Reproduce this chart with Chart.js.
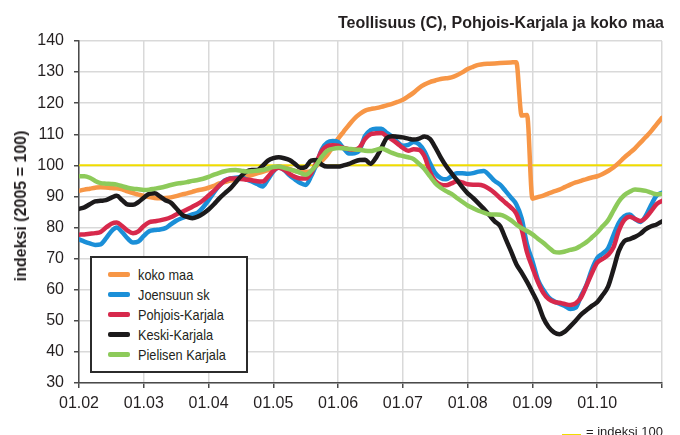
<!DOCTYPE html>
<html lang="fi">
<head>
    <meta charset="UTF-8">
    <title>Teollisuus (C), Pohjois-Karjala ja koko maa</title>
    <script src="https://cdn.jsdelivr.net/npm/chart.js"></script>
    <style>
        body {
            margin: 0;
            background: #fff;
        }
        #wrap {
            position: relative;
            width: 680px;
            height: 435px;
            overflow: hidden;
            font-family: "Liberation Sans", Arial, sans-serif;
            color: #231f20;
        }
        #chart {
            position: absolute;
            left: 0;
            top: 0;
        }
        #title {
            position: absolute;
            right: 16px;
            top: 15px;
            font-size: 16px;
            line-height: 16px;
            font-weight: bold;
            white-space: nowrap;
        }
        #ytitle {
            position: absolute;
            left: 21px;
            top: 206px;
            font-size: 16px;
            line-height: 16px;
            font-weight: bold;
            white-space: nowrap;
            transform: translate(-50%, -50%) rotate(-90deg);
        }
        #legend {
            position: absolute;
            left: 90px;
            top: 256px;
            width: 154px;
            height: 113px;
            border: 2px solid #2b2b2b;
            background: #fff;
        }
        #legend .item {
            position: absolute;
            left: 16px;
            height: 18px;
            display: flex;
            align-items: center;
            font-size: 15px;
            white-space: nowrap;
        }
        #legend .swatch {
            display: inline-block;
            width: 22px;
            height: 5px;
            border-radius: 2px;
            margin-right: 8px;
        }
        #legend .name {
            display: inline-block;
            transform: scaleX(0.85);
            transform-origin: left center;
        }
        #note {
            position: absolute;
            left: 562px;
            top: 425px;
            font-size: 13px;
            line-height: 13px;
            white-space: nowrap;
            display: flex;
            align-items: center;
        }
        #note .swatch {
            display: inline-block;
            width: 19px;
            height: 2px;
            margin-right: 5px;
            margin-top: 7px;
        }
    </style>
</head>
<body>
<div id="wrap">
    <canvas id="chart" width="680" height="435"></canvas>
    <div id="title">Teollisuus (C), Pohjois-Karjala ja koko maa</div>
    <div id="ytitle">indeksi (2005 = 100)</div>
    <div id="legend"></div>
    <div id="note"><span class="swatch"></span>= indeksi 100</div>
</div>
<script>
    // monthly values, 01.02 ... 01.11 (one row per year)
    const kokoMaa = [
        91.8, 92.2, 92.5, 92.8, 93, 92.9, 92.7, 92.6, 92.3, 91.6, 91.1, 90.6,
        90.2, 89.8, 89.5, 89.4, 89.5, 89.7, 90.1, 90.6, 91, 91.5, 92, 92.3,
        92.8, 93.4, 94.2, 94.6, 95.1, 95.5, 95.9, 96.4, 96.9, 97.4, 97.9, 98.5,
        99.1, 99.6, 99.3, 98.8, 98.2, 97.9, 97.9, 98.2, 99.8, 101.5, 103.4, 106,
        108.6, 110.8, 113, 115, 116.5, 117.6, 118.1, 118.4, 118.8, 119.3, 119.8, 120.4,
        121.1, 122.2, 123.4, 124.9, 126, 126.8, 127.3, 127.8, 128, 128.3, 129, 129.9,
        131, 131.7, 132.3, 132.6, 132.7, 132.8, 132.9, 133, 133.1, 133.2, 116, 116.2,
        89.3, 89.8, 90.3, 91, 91.6, 92.2, 93, 93.8, 94.5, 95, 95.6, 96.1,
        96.5, 97.2, 98.2, 99.3, 100.8, 102.5, 104, 105.5, 107.3, 109.1, 111, 113.2,
        115.3
    ];
    const joensuunSk = [
        76.2, 75.5, 74.9, 74.4, 74.6, 76.5, 78.8, 80, 78.5, 76.5, 75.2, 75.5,
        77.3, 78.8, 79.2, 79.4, 79.8, 81, 82.2, 83, 83.6, 84.2, 84.8, 86.5,
        88.8, 91.3, 93.5, 95.2, 95.8, 96, 96.2, 95.5, 94.8, 94, 93.2, 95.5,
        98, 99.4, 98.5, 96.8, 95.5, 94.3, 93.7, 96.5, 100.5, 105.2, 107.3, 107.8,
        107.5, 105.5, 103.8, 103.9, 105, 109.5, 111.3, 111.8, 111.8, 110.5, 109.3, 107.5,
        106.3, 106.6, 107.5, 106.8, 104.5, 100.8, 97.5, 95.9, 95.5, 96.5, 97.5, 97.5,
        97.3, 97.5, 98, 98.2, 96.8, 95, 93.8, 91.8, 89.7, 87.5, 83, 74.5,
        69.2, 63.3, 60, 57.6, 56.3, 55.5, 54.8, 53.8, 54.2, 58, 61.5, 66.5,
        70.2, 71.6, 73.3, 77.5, 81.5, 83.6, 84.2, 82.7, 81.8, 83.8, 87.3, 90.3,
        91.2
    ];
    const pohjoisKarjala = [
        77.7, 77.8, 78, 78.2, 78.6, 80, 81.2, 81.6, 80.5, 79, 78.2, 78.8,
        80.5, 81.7, 82, 82.3, 82.7, 83.3, 84.2, 85, 85.8, 86.7, 87.6, 88.8,
        90.3, 91.8, 93.5, 95, 95.8, 95.8, 95.6, 95.4, 95.2, 94.9, 94.8, 96.3,
        98.3, 99.2, 98.6, 97.3, 96.3, 95.8, 95.8, 97.5, 101, 104.8, 106.2, 106.5,
        106.3, 105.6, 105.2, 105, 105.8, 108.5, 110, 110.3, 110.4, 109.4, 108.3, 107,
        105.6, 104.7, 105.2, 105, 102.9, 98, 95, 93.8, 93.6, 94.2, 94.9, 94.5,
        93.9, 93.8, 93.8, 93.4, 92.4, 91.1, 89.5, 88, 86.5, 84.5, 79.5, 72,
        67.1, 62.5, 59, 57, 56.1, 55.8, 55.4, 55.1, 55.6, 57.5, 61.3, 65.3,
        68.7, 69.9, 71.2, 73.6, 79, 82.4, 83.5, 82.8, 82.1, 83.2, 85.3, 87.5,
        88.6
    ];
    const keskiKarjala = [
        86, 86.5, 87.5, 88.4, 88.6, 88.8, 89.6, 90.2, 88.8, 87.4, 87.3, 88.2,
        89.6, 90.8, 91, 90, 88.8, 88, 86.2, 84.3, 83.4, 83, 83.5, 84.5,
        85.8, 87.5, 89.4, 91, 92.5, 94.5, 96.5, 98, 98.5, 98.5, 99.8, 101.5,
        102.3, 102.6, 102.3, 101.7, 100.5, 99.2, 99.5, 101.5, 101.7, 100.2, 99.6, 99.6,
        99.6, 100, 100.5, 101.2, 101.7, 101.8, 100.5, 102.4, 105.5, 108.8, 109.4, 109.2,
        109, 108.6, 108.3, 108.6, 109.3, 108.5, 105.8, 102.6, 99.8, 97.5, 95.3, 93,
        91, 89.5, 87.8, 86, 84, 82, 80.5, 76.5, 72.5, 68.3, 65.5, 62.5,
        59.2, 55.7, 51, 48, 46.3, 45.7, 46.5, 48.2, 50, 52, 53.4, 54.8,
        56, 58.3, 61, 66.5, 72.5, 75.6, 76.3, 77, 78, 79.5, 80.4, 81,
        82
    ];
    const pielisenKarjala = [
        96.5, 96.5, 96, 95, 94.3, 94.1, 94, 93.8, 93.3, 92.8, 92.5, 92.3,
        92.1, 92.2, 92.5, 92.8, 93.2, 93.7, 94.1, 94.3, 94.6, 95, 95.3, 95.7,
        96.3, 97, 97.6, 98.1, 98.4, 98.5, 98.3, 98, 98.1, 98.3, 98.5, 99,
        99.5, 99.6, 99.2, 98.7, 98.2, 97.6, 97, 98.2, 100.2, 102.8, 104.7, 105.3,
        105.6, 105.5, 105.3, 105.1, 105, 104.7, 104.6, 105, 105.4, 104.8, 104, 103.4,
        103, 102.6, 102, 100.5, 98.8, 96.5, 94.3, 92.8, 91.7, 90.8, 89.5, 88.3,
        87.1, 86.2, 85.4, 84.8, 84.3, 84.2, 84.1, 83.5, 82.4, 81, 79.8, 78.9,
        77.8, 76.4, 75.1, 73.6, 72.2, 72, 72.3, 72.8, 73.2, 74.2, 75.3, 76.8,
        78.4, 80.4, 82.3, 85.4, 88.4, 90.4, 91.5, 92.2, 92.1, 91.8, 91.2, 90.7,
        90.8
    ];

    const yearLabels = ['01.02', '01.03', '01.04', '01.05', '01.06', '01.07', '01.08', '01.09', '01.10'];
    const seriesNames = ['koko maa', 'Joensuun sk', 'Pohjois-Karjala', 'Keski-Karjala', 'Pielisen Karjala'];
    const seriesColors = ['#f79646', '#1b8fd8', '#d7294c', '#1c1a1b', '#8dca5a'];
    const seriesData = [kokoMaa, joensuunSk, pohjoisKarjala, keskiKarjala, pielisenKarjala];
    const indexLevel = 100;
    const indexColor = '#f0dc00';

    const lastMonth = kokoMaa.length - 1;
    const toPoints = arr => arr.map((v, i) => ({ x: i, y: v }));

    const datasets = seriesData.map((arr, i) => ({
        label: seriesNames[i],
        data: toPoints(arr),
        borderColor: seriesColors[i],
        borderWidth: 4.5,
        pointRadius: 0,
        cubicInterpolationMode: 'monotone',
        borderJoinStyle: 'round',
        borderCapStyle: 'round',
        order: seriesData.length - i
    }));
    datasets.push({
        label: 'indeksi 100',
        data: [{ x: 0, y: indexLevel }, { x: lastMonth, y: indexLevel }],
        borderColor: indexColor,
        borderWidth: 2,
        pointRadius: 0,
        order: 20
    });

    const tickFont = { family: '"Liberation Sans", Arial, sans-serif', size: 16 };

    new Chart(document.getElementById('chart'), {
        type: 'line',
        data: { datasets },
        options: {
            responsive: false,
            animation: false,
            layout: { padding: { left: 0, top: 41, right: 18, bottom: 0 } },
            plugins: { legend: { display: false }, tooltip: { enabled: false } },
            scales: {
                x: {
                    type: 'linear',
                    min: 0,
                    max: lastMonth,
                    afterFit: s => { s.height = 52; },
                    grid: { color: '#d9d9d9', lineWidth: 1.5, tickLength: 5, tickColor: '#4a4a4a' },
                    border: { color: '#4a4a4a', width: 1.5 },
                    ticks: {
                        stepSize: 12,
                        autoSkip: false,
                        maxRotation: 0,
                        padding: 6,
                        color: '#231f20',
                        font: tickFont,
                        callback: v => yearLabels[v / 12] || ''
                    }
                },
                y: {
                    min: 30,
                    max: 140,
                    afterFit: s => { s.width = 79; },
                    grid: { color: '#d9d9d9', lineWidth: 1.5, tickLength: 5, tickColor: '#4a4a4a' },
                    border: { color: '#4a4a4a', width: 1.5 },
                    ticks: {
                        stepSize: 10,
                        padding: 10,
                        color: '#231f20',
                        font: tickFont
                    }
                }
            }
        }
    });

    // legend box
    const legend = document.getElementById('legend');
    seriesNames.forEach((name, i) => {
        const item = document.createElement('div');
        item.className = 'item';
        item.style.top = (7 + i * 20) + 'px';
        item.innerHTML = '<span class="swatch" style="background:' + seriesColors[i] + '"></span>' +
            '<span class="name">' + name + '</span>';
        legend.appendChild(item);
    });
    document.querySelector('#note .swatch').style.background = indexColor;
</script>
</body>
</html>
